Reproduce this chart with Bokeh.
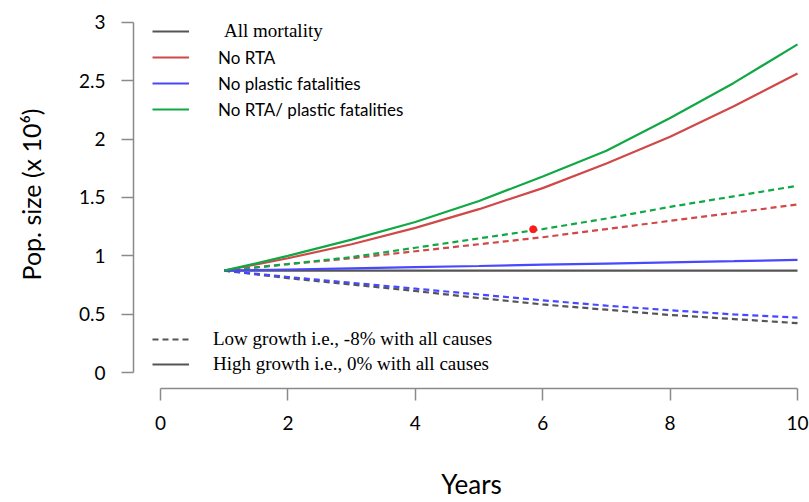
from bokeh.plotting import figure
from bokeh.models import (Range1d, FixedTicker, NumeralTickFormatter, Legend,
                          LegendItem)
from bokeh.embed import file_html
from bokeh.resources import INLINE

# ---------------- data ----------------
years = [1, 2, 3, 4, 5, 6, 7, 8, 9, 10]

# high growth (solid)
all_high = [0.874, 0.874, 0.874, 0.874, 0.874, 0.874, 0.874, 0.874, 0.874, 0.874]
no_rta_high = [0.874, 0.98, 1.10, 1.24, 1.40, 1.58, 1.79, 2.02, 2.28, 2.56]
no_plastic_high = [0.874, 0.884, 0.894, 0.904, 0.914, 0.925, 0.935, 0.945, 0.955, 0.966]
no_both_high = [0.874, 1.00, 1.14, 1.29, 1.47, 1.68, 1.90, 2.18, 2.48, 2.81]

# low growth (dashed)
all_low = [0.874, 0.81, 0.755, 0.70, 0.64, 0.585, 0.54, 0.495, 0.46, 0.425]
no_rta_low = [0.874, 0.93, 0.98, 1.04, 1.10, 1.16, 1.23, 1.30, 1.37, 1.44]
no_plastic_low = [0.874, 0.82, 0.77, 0.72, 0.67, 0.62, 0.575, 0.535, 0.50, 0.473]
no_both_low = [0.874, 0.93, 0.99, 1.07, 1.15, 1.23, 1.32, 1.42, 1.51, 1.60]

marker_x = [5.85]
marker_y = [1.228]

x_ticks = [0, 2, 4, 6, 8, 10]
y_ticks = [0, 0.5, 1, 1.5, 2, 2.5, 3]

series_labels = ["All mortality", "No RTA", "No plastic fatalities",
                 "No RTA/ plastic fatalities"]
growth_labels = ["Low growth i.e., -8% with all causes",
                 "High growth i.e., 0% with all causes"]
x_title = "Years"
y_title = "Pop. size (x 10\u2076)"

# ---------------- styles ----------------
C_BLACK = "#555555"
C_RED = "#d04848"
C_BLUE = "#4848ff"
C_GREEN = "#10a845"
AXIS_C = "#8a8a8a"
SANS = "Lato"
SERIF = "Liberation Serif"
LW = 2.2
DASH = "6 4"

p = figure(width=809, height=502, output_backend="svg", toolbar_location=None,
           x_range=Range1d(-0.424, 10.188), y_range=Range1d(-0.134, 3.185),
           min_border_left=133, min_border_right=0, min_border_top=0,
           min_border_bottom=113)
p.outline_line_color = None
p.grid.visible = False
p.background_fill_color = "white"
p.border_fill_color = "white"

r_all_low = p.line(years, all_low, line_color=C_BLACK, line_width=LW, line_dash=DASH)
r_rta_low = p.line(years, no_rta_low, line_color=C_RED, line_width=LW, line_dash=DASH)
r_pl_low = p.line(years, no_plastic_low, line_color=C_BLUE, line_width=LW, line_dash=DASH)
r_both_low = p.line(years, no_both_low, line_color=C_GREEN, line_width=LW, line_dash=DASH)

r_all = p.line(years, all_high, line_color=C_BLACK, line_width=LW)
r_rta = p.line(years, no_rta_high, line_color=C_RED, line_width=LW)
r_pl = p.line(years, no_plastic_high, line_color=C_BLUE, line_width=LW)
r_both = p.line(years, no_both_high, line_color=C_GREEN, line_width=LW)

p.scatter(marker_x, marker_y, size=7, color="#ff1a1a")

# ---------------- axes ----------------
for ax in (p.xaxis[0], p.yaxis[0]):
    ax.axis_line_color = AXIS_C
    ax.axis_line_width = 1.5
    ax.major_tick_line_color = AXIS_C
    ax.major_tick_line_width = 1.5
    ax.major_tick_in = 0
    ax.major_tick_out = 12
    ax.minor_tick_line_color = None
    ax.major_label_text_font = SANS
    ax.major_label_text_font_size = "19px"
    ax.major_label_text_color = "black"
    ax.formatter = NumeralTickFormatter(format="0.[0]")
    ax.axis_label_text_font = SANS
    ax.axis_label_text_font_style = "normal"
    ax.axis_label_text_color = "black"

xa = p.xaxis[0]
xa.ticker = FixedTicker(ticks=x_ticks)
xa.bounds = (x_ticks[0], x_ticks[-1])
xa.major_label_standoff = 15
xa.axis_label = x_title
xa.axis_label_text_font_size = "26px"
xa.axis_label_standoff = 35

ya = p.yaxis[0]
ya.ticker = FixedTicker(ticks=y_ticks)
ya.bounds = (y_ticks[0], y_ticks[-1])
ya.major_label_standoff = 16
ya.axis_label = y_title
ya.axis_label_text_font_size = "25px"
ya.axis_label_standoff = 30

# ---------------- legends ----------------
def make_legend(items, loc, font, size, standoff, spacing):
    lg = Legend(items=items, location=loc, orientation="vertical",
                padding=0, margin=0, spacing=spacing,
                glyph_width=37, glyph_height=22, label_height=22,
                label_standoff=standoff, border_line_color=None,
                background_fill_alpha=0, label_text_font=font,
                label_text_font_size=size, label_text_color="black")
    p.add_layout(lg, "center")
    return lg

make_legend([LegendItem(label=series_labels[0], renderers=[r_all])],
            (19, 346), SERIF, "19px", 35, 0)
make_legend([LegendItem(label=series_labels[1], renderers=[r_rta]),
             LegendItem(label=series_labels[2], renderers=[r_pl]),
             LegendItem(label=series_labels[3], renderers=[r_both])],
            (19, 268), SANS, "17px", 29, 4)
make_legend([LegendItem(label=growth_labels[0], renderers=[r_all_low]),
             LegendItem(label=growth_labels[1], renderers=[r_all])],
            (19, 13), SERIF, "19px", 24, 3)

open("out.html", "w").write(file_html(p, INLINE))
